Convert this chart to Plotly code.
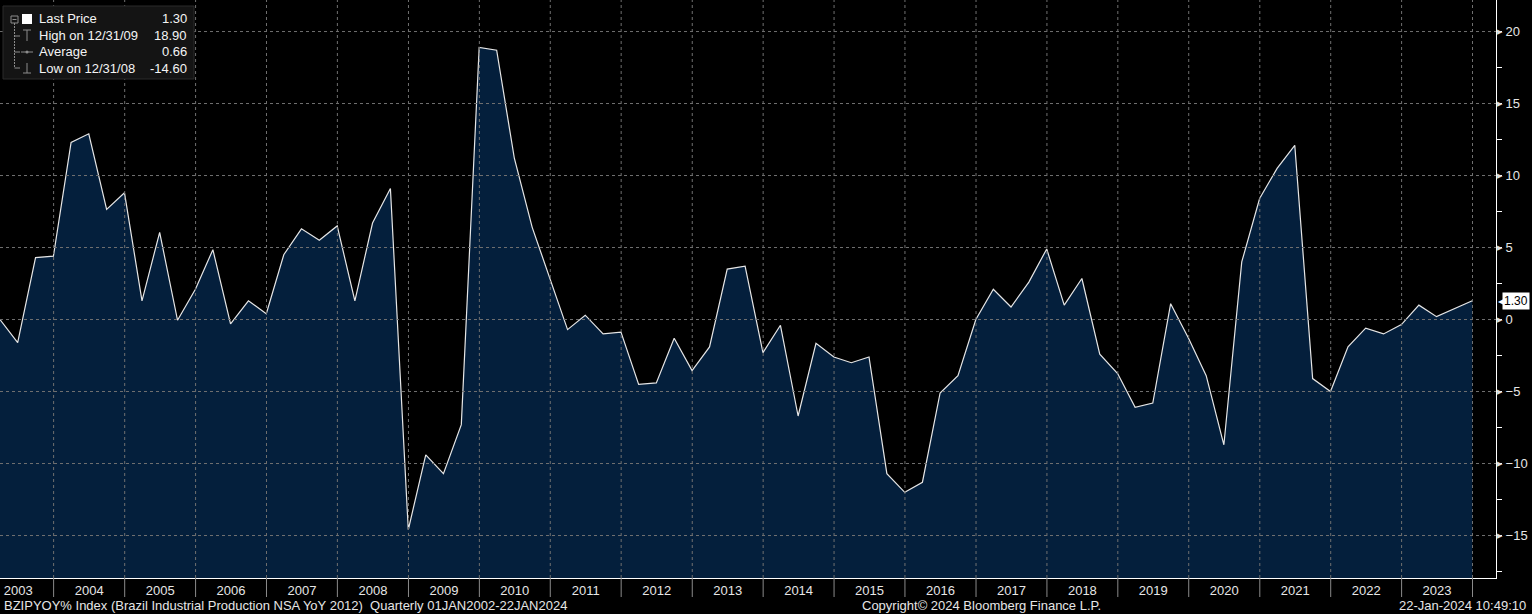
import pandas as pd
import plotly.graph_objects as go

# Brazil industrial production YoY %, quarterly (quarter ends 1Q03 .. 4Q23)
start_quarter = "2003-03-31"
yoy = [
    0.0, -1.6, 4.3, 4.4, 12.3, 12.9, 7.65, 8.8, 1.3, 6.05,
    -0.05, 2.1, 4.85, -0.3, 1.3, 0.4, 4.5, 6.3, 5.5, 6.5,
    1.3, 6.7, 9.1, -14.6, -9.4, -10.7, -7.3, 18.9, 18.7, 11.2,
    6.4, 2.85, -0.7, 0.3, -1.0, -0.87, -4.5, -4.4, -1.3, -3.55,
    -1.9, 3.5, 3.7, -2.3, -0.4, -6.7, -1.65, -2.6, -3.0, -2.6,
    -10.7, -12.0, -11.3, -5.1, -3.9, 0.0, 2.1, 0.87, 2.6, 4.9,
    1.0, 2.85, -2.4, -3.75, -6.1, -5.8, 1.1, -1.3, -3.9, -8.7,
    4.0, 8.4, 10.5, 12.1, -4.1, -5.0, -1.9, -0.6, -1.0, -0.35,
    1.0, 0.2, 0.75, 1.3,
]
dates = pd.date_range(start_quarter, periods=len(yoy), freq="QE")

y_ticks = [-15, -10, -5, 0, 5, 10, 15, 20]
year_bounds = [f"{y}-01-01" for y in range(2004, 2025)]

legend_rows = [
    ("Last Price", "1.30"),
    ("High on 12/31/09", "18.90"),
    ("Average", "0.66"),
    ("Low on 12/31/08", "-14.60"),
]
last_value = yoy[-1]

y_range = [-17.95, 22.19]
x_range = ["2003-03-31", "2024-05-01"]

W, H = 1532, 614
M_R, M_B = 36, 36
PW, PH = W - M_R, H - M_B


def xp(px):
    return px / PW


def yp(py):
    return 1 - py / PH


FONT = "Arial, Liberation Sans, sans-serif"
FILL = "#041f3c"
GRID = "#707070"

fig = go.Figure()

# baseline at the bottom of the chart so the area reaches the axis
fig.add_trace(go.Scatter(x=dates, y=[y_range[0]] * len(yoy), mode="lines",
                         line=dict(width=0), hoverinfo="skip", showlegend=False))
fig.add_trace(go.Scatter(x=dates, y=yoy, mode="lines", fill="tonexty",
                         fillcolor=FILL, line=dict(color="#e6e6e6", width=1.2),
                         showlegend=False))

shapes = []
# dotted grid drawn above the filled area
for v in y_ticks:
    shapes.append(dict(type="line", xref="paper", yref="y", x0=0, x1=1, y0=v, y1=v,
                       line=dict(color=GRID, width=1, dash="3px,3px"), layer="above"))
for d in year_bounds:
    shapes.append(dict(type="line", xref="x", yref="paper", x0=d, x1=d, y0=0, y1=1,
                       line=dict(color=GRID, width=1, dash="3px,3px"), layer="above"))
    shapes.append(dict(type="line", xref="x", yref="paper", x0=d, x1=d, y0=0, y1=yp(597),
                       line=dict(color="#8a8a8a", width=1), layer="above"))

# legend panel top-left
shapes.append(dict(type="rect", xref="paper", yref="paper", x0=xp(3), x1=xp(194),
                   y0=yp(79), y1=yp(6), fillcolor="#141414", line=dict(color="#2a2a2a", width=1),
                   layer="above"))
tree = "#8c8c8c"
shapes += [
    dict(type="rect", x0=xp(11), x1=xp(18), y0=yp(23), y1=yp(16), line=dict(color=tree, width=1)),
    dict(type="line", x0=xp(12.5), x1=xp(16.5), y0=yp(19.5), y1=yp(19.5), line=dict(color=tree, width=1)),
    dict(type="line", x0=xp(14.5), x1=xp(14.5), y0=yp(23), y1=yp(68), line=dict(color=tree, width=1, dash="2px,1px")),
    dict(type="line", x0=xp(14.5), x1=xp(20), y0=yp(36), y1=yp(36), line=dict(color=tree, width=1)),
    dict(type="line", x0=xp(14.5), x1=xp(20), y0=yp(52), y1=yp(52), line=dict(color=tree, width=1)),
    dict(type="line", x0=xp(14.5), x1=xp(20), y0=yp(68), y1=yp(68), line=dict(color=tree, width=1)),
    dict(type="rect", x0=xp(22), x1=xp(32), y0=yp(24), y1=yp(14), fillcolor="white", line=dict(width=0)),
    dict(type="line", x0=xp(23), x1=xp(31), y0=yp(30), y1=yp(30), line=dict(color=tree, width=1)),
    dict(type="line", x0=xp(27), x1=xp(27), y0=yp(30), y1=yp(41), line=dict(color=tree, width=1)),
    dict(type="line", x0=xp(21), x1=xp(33), y0=yp(52), y1=yp(52), line=dict(color=tree, width=1)),
    dict(type="circle", x0=xp(25.5), x1=xp(28.5), y0=yp(53.5), y1=yp(50.5), fillcolor=tree, line=dict(width=0)),
    dict(type="line", x0=xp(27), x1=xp(27), y0=yp(63), y1=yp(73), line=dict(color=tree, width=1)),
    dict(type="line", x0=xp(23), x1=xp(31), y0=yp(73), y1=yp(73), line=dict(color=tree, width=1)),
]
for s in shapes[-13:]:
    s.update(xref="paper", yref="paper", layer="above")

annotations = []
for i, (label, val) in enumerate(legend_rows):
    yy = yp(19 + i * 16.4)
    annotations.append(dict(x=xp(37), y=yy, xref="paper", yref="paper", text=label,
                            xanchor="left", yanchor="middle", showarrow=False,
                            font=dict(family=FONT, size=13, color="#f4f4f4")))
    annotations.append(dict(x=xp(189), y=yy, xref="paper", yref="paper", text=val,
                            xanchor="right", yanchor="middle", showarrow=False,
                            font=dict(family=FONT, size=13, color="#f4f4f4")))

# right axis markers
for v in y_ticks:
    annotations.append(dict(x=1, y=v, xref="paper", yref="y", text="\u25b6",
                            xanchor="left", yanchor="middle", showarrow=False, xshift=-1,
                            font=dict(size=7, color="#e0e0e0")))

# last price tag
annotations.append(dict(x=1, y=last_value, xref="paper", yref="y", text="\u25c0",
                        xanchor="left", yanchor="middle", showarrow=False, xshift=0,
                        font=dict(size=12, color="white")))
annotations.append(dict(x=1, y=last_value, xref="paper", yref="y", text=f"{last_value:.2f}",
                        xanchor="left", yanchor="middle", showarrow=False, xshift=6,
                        bgcolor="white", borderpad=1,
                        font=dict(family=FONT, size=12, color="black")))

# footer
foot = dict(family=FONT, size=13, color="#e6e6e6")
annotations.append(dict(x=xp(2), y=yp(605), xref="paper", yref="paper", xanchor="left",
                        yanchor="middle", showarrow=False, font=foot,
                        text="BZIPYOY% Index (Brazil Industrial Production NSA YoY 2012)  Quarterly 01JAN2002-22JAN2024"))
annotations.append(dict(x=xp(981), y=yp(605), xref="paper", yref="paper", xanchor="center",
                        yanchor="middle", showarrow=False, font=foot,
                        text="Copyright\u00a9 2024 Bloomberg Finance L.P."))
annotations.append(dict(x=xp(1528), y=yp(605), xref="paper", yref="paper", xanchor="right",
                        yanchor="middle", showarrow=False, font=foot,
                        text="22-Jan-2024 10:49:10"))

fig.update_layout(
    width=W, height=H,
    margin=dict(l=0, r=M_R, t=0, b=M_B),
    paper_bgcolor="black", plot_bgcolor="black",
    showlegend=False,
    shapes=shapes, annotations=annotations,
    xaxis=dict(type="date", range=x_range, tick0="2003-01-01", dtick="M12",
               ticklabelmode="period", tickformat="%Y", ticks="",
               showgrid=False, zeroline=False, showline=True, linecolor="white", linewidth=1,
               tickfont=dict(family=FONT, size=13, color="#e6e6e6")),
    yaxis=dict(side="right", range=y_range, tickvals=y_ticks, ticks="",
               showgrid=False, zeroline=False, showline=True, linecolor="white", linewidth=1,
               ticklabelstandoff=6,
               minor=dict(dtick=2.5, tick0=0, ticks="outside", ticklen=5, tickcolor="white", showgrid=False),
               tickfont=dict(family=FONT, size=13, color="#e6e6e6")),
)

# the page body has a default 8px margin; drop it so the chart sits at the window edge
fig.write_html("out.html", config={"displayModeBar": False},
               post_script="document.body.style.margin='0';")
